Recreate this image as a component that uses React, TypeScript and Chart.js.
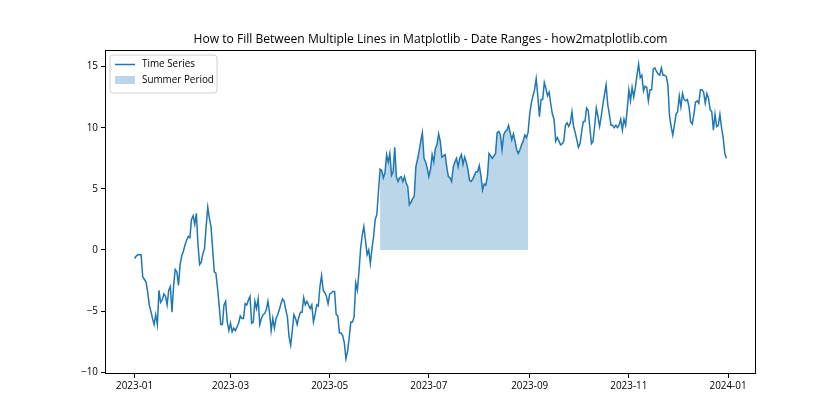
import React, { useEffect, useRef } from "react";
import { Chart, registerables } from "chart.js";
Chart.register(...registerables);

// Daily values, 2023-01-01 .. 2023-12-31 (day index 0..364)
const values = [
  -0.7, -0.5, -0.4, -0.4, -0.4, -2.2, -2.4, -2.6, -3.4, -4.5,
  -5.0, -5.6, -6.1, -5.3, -6.1, -3.3, -4.3, -4.1, -3.6, -3.8,
  -4.5, -3.3, -3.0, -5.1, -2.9, -1.6, -1.8, -2.9, -1.2, -0.5,
  -0.1, 0.4, 0.8, 1.1, 1.0, 2.5, 2.8, 2.1, 3.0, 0.4,
  -1.2, -1.0, -0.3, 0.1, 1.9, 3.5, 2.6, 1.9, 0.1, -1.8,
  -1.9, -3.1, -4.5, -6.1, -6.1, -4.5, -4.2, -5.9, -6.6, -6.0,
  -6.7, -6.4, -6.6, -6.3, -6.0, -5.4, -5.6, -5.6, -4.4, -4.5,
  -4.1, -3.8, -6.0, -5.9, -4.2, -4.8, -4.0, -6.1, -5.6, -5.3,
  -5.2, -4.9, -4.2, -5.1, -6.6, -5.6, -6.4, -5.6, -5.3, -4.9,
  -4.4, -4.0, -4.2, -4.9, -5.5, -7.1, -7.8, -6.6, -5.3, -5.6,
  -6.1, -5.5, -5.1, -5.1, -3.9, -4.5, -4.2, -4.5, -4.8, -4.5,
  -5.9, -5.3, -4.5, -4.6, -3.0, -2.1, -3.3, -3.5, -3.8, -4.4,
  -3.6, -3.5, -3.4, -3.4, -5.3, -5.4, -6.8, -6.8, -7.0, -7.6,
  -8.9, -8.3, -7.2, -5.9, -5.9, -5.5, -2.7, -3.3, -1.8, 0.1,
  1.2, 1.9, 0.8, -0.4, 0.0, -1.1, 0.1, 1.1, 2.5, 2.9,
  4.8, 6.6, 6.5, 5.9, 6.3, 7.8, 7.2, 7.9, 6.1, 6.4,
  8.4, 6.0, 5.6, 5.9, 6.0, 5.6, 6.0, 5.5, 5.2, 3.7,
  3.9, 4.2, 4.4, 6.8, 7.4, 8.1, 8.9, 9.6, 7.5, 7.2,
  6.7, 6.0, 6.6, 7.8, 7.2, 8.3, 8.6, 9.5, 8.9, 7.6,
  7.7, 7.8, 6.8, 6.0, 5.9, 5.6, 6.8, 7.2, 7.5, 6.8,
  7.5, 7.8, 7.0, 7.6, 7.2, 6.6, 5.7, 5.6, 5.8, 6.1,
  6.4, 6.4, 6.9, 6.1, 4.9, 5.4, 5.3, 6.0, 7.9, 7.7,
  7.5, 7.7, 7.9, 9.6, 9.7, 9.4, 8.2, 9.4, 9.7, 9.8,
  10.2, 9.6, 9.0, 9.5, 8.9, 8.2, 7.9, 8.2, 8.6, 8.9,
  9.4, 9.2, 9.6, 11.1, 12.0, 12.6, 13.1, 14.0, 12.6, 10.9,
  12.3, 12.3, 13.7, 13.2, 12.6, 12.9, 11.9, 11.1, 10.7, 8.9,
  9.2, 8.9, 8.6, 8.7, 8.9, 10.2, 10.4, 10.1, 10.4, 11.3,
  10.1, 9.6, 9.0, 8.4, 8.7, 9.7, 10.5, 10.5, 11.6, 11.4,
  10.0, 8.7, 8.9, 10.2, 11.6, 10.9, 10.1, 10.9, 11.9, 12.7,
  13.5, 11.9, 11.1, 10.2, 10.2, 10.0, 10.2, 10.0, 10.2, 10.7,
  9.8, 10.7, 10.2, 11.5, 13.1, 12.2, 13.3, 12.5, 13.3, 14.3,
  15.2, 14.1, 14.3, 13.0, 13.4, 13.3, 12.2, 13.1, 13.1, 14.8,
  14.9, 14.6, 14.4, 14.3, 14.9, 14.3, 14.3, 14.2, 13.5, 11.0,
  10.1, 9.4, 10.2, 11.1, 11.3, 12.6, 11.7, 12.8, 12.3, 12.2,
  12.3, 11.7, 10.5, 10.3, 11.1, 12.1, 12.2, 12.0, 13.1, 13.1,
  12.9, 12.0, 12.8, 12.4, 11.5, 11.3, 9.8, 11.1, 10.1, 10.2,
  11.1, 10.0, 9.2, 7.9, 7.5,
];

// Tick positions are day offsets from 2023-01-01
const tickDays = [0, 59, 120, 181, 243, 304, 365];
const tickLabels = ["2023-01", "2023-03", "2023-05", "2023-07", "2023-09", "2023-11", "2024-01"];
const yTicks = [-10, -5, 0, 5, 10, 15];
const summerStart = 151; // 2023-06-01
const summerEnd = 242; // 2023-08-31
const titleText = "How to Fill Between Multiple Lines in Matplotlib - Date Ranges - how2matplotlib.com";
const seriesLabel = "Time Series";
const fillLabel = "Summer Period";

const FONT = "'Open Sans', 'DejaVu Sans', sans-serif";
const BLUE = "#1f77b4";
const FILL = "rgba(31,119,180,0.3)";

export default function App() {
  const ref = useRef<HTMLCanvasElement | null>(null);

  useEffect(() => {
    document.body.style.margin = "0";
    const lineData = values.map((v, i) => ({ x: i, y: v }));
    const fillData = lineData.slice(summerStart, summerEnd + 1);

    const framePlugin = {
      id: "frame",
      afterDraw(chart: any) {
        const { ctx, chartArea: a } = chart;
        ctx.save();
        ctx.strokeStyle = "#000";
        ctx.lineWidth = 1;
        ctx.strokeRect(Math.round(a.left) + 0.5, Math.round(a.top) + 0.5, Math.round(a.right - a.left) - 1, Math.round(a.bottom - a.top) - 1);
        // title
        ctx.fillStyle = "#000";
        ctx.font = `12.1px ${FONT}`;
        ctx.textAlign = "center";
        ctx.textBaseline = "middle";
        ctx.fillText(titleText, (a.left + a.right) / 2, 40);
        // legend
        const bx = 110, by = 55, bw = 107, bh = 38, r = 3;
        ctx.beginPath();
        ctx.moveTo(bx + r, by);
        ctx.lineTo(bx + bw - r, by);
        ctx.quadraticCurveTo(bx + bw, by, bx + bw, by + r);
        ctx.lineTo(bx + bw, by + bh - r);
        ctx.quadraticCurveTo(bx + bw, by + bh, bx + bw - r, by + bh);
        ctx.lineTo(bx + r, by + bh);
        ctx.quadraticCurveTo(bx, by + bh, bx, by + bh - r);
        ctx.lineTo(bx, by + r);
        ctx.quadraticCurveTo(bx, by, bx + r, by);
        ctx.closePath();
        ctx.fillStyle = "rgba(255,255,255,0.8)";
        ctx.fill();
        ctx.strokeStyle = "#d0d0d0";
        ctx.lineWidth = 1;
        ctx.stroke();
        ctx.strokeStyle = BLUE;
        ctx.lineWidth = 1.5;
        ctx.beginPath();
        ctx.moveTo(115, 64.5);
        ctx.lineTo(135, 64.5);
        ctx.stroke();
        ctx.fillStyle = FILL;
        ctx.fillRect(115, 76, 20, 8);
        ctx.fillStyle = "#000";
        ctx.font = `9.9px ${FONT}`;
        ctx.textAlign = "left";
        ctx.fillText(seriesLabel, 142, 64);
        ctx.fillText(fillLabel, 142, 80);
        ctx.restore();
      },
    };

    const chart = new Chart(ref.current as HTMLCanvasElement, {
      type: "line",
      data: {
        datasets: [
          {
            label: fillLabel,
            data: fillData,
            borderWidth: 0,
            borderColor: "rgba(0,0,0,0)",
            pointRadius: 0,
            fill: "origin",
            backgroundColor: FILL,
            tension: 0,
            order: 2,
          },
          {
            label: seriesLabel,
            data: lineData,
            borderColor: BLUE,
            borderWidth: 1.5,
            pointRadius: 0,
            fill: false,
            tension: 0,
            order: 1,
          },
        ],
      },
      options: {
        responsive: false,
        animation: false,
        layout: { padding: { top: 50, right: 84, left: 0, bottom: 0 } },
        plugins: { legend: { display: false }, tooltip: { enabled: false }, title: { display: false } },
        scales: {
          x: {
            type: "linear",
            min: -18.2,
            max: 382.2,
            afterFit: (s: any) => {
              s.height = 46;
            },
            afterBuildTicks: (s: any) => {
              s.ticks = tickDays.map((v) => ({ value: v }));
            },
            ticks: {
              callback: (v: any) => tickLabels[tickDays.indexOf(Number(v))] ?? "",
              color: "#000",
              font: { family: FONT, size: 9.9 },
              maxRotation: 0,
              autoSkip: false,
              padding: 2,
            },
            grid: { drawOnChartArea: false, tickLength: 4, color: "#000", tickWidth: 1 },
            border: { display: false },
          },
          y: {
            type: "linear",
            min: -10.15,
            max: 16.36,
            afterFit: (s: any) => {
              s.width = 105;
            },
            afterBuildTicks: (s: any) => {
              s.ticks = yTicks.map((v) => ({ value: v }));
            },
            ticks: {
              callback: (v: any) => String(v).replace("-", "\u2212"),
              color: "#000",
              font: { family: FONT, size: 9.9 },
              padding: 3,
            },
            grid: { drawOnChartArea: false, tickLength: 4, color: "#000", tickWidth: 1 },
            border: { display: false },
          },
        },
      },
      plugins: [framePlugin],
    } as any);
    return () => chart.destroy();
  }, []);

  return (
    <div style={{ width: 840, height: 420 }}>
      <canvas ref={ref} width={840} height={420} style={{ display: "block" }} />
    </div>
  );
}
